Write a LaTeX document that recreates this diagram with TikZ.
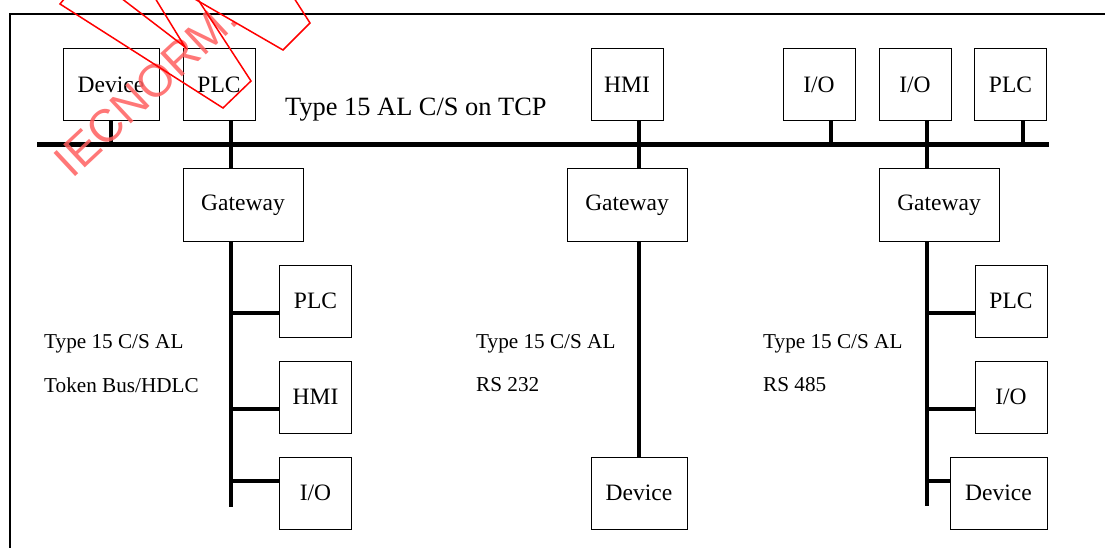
\documentclass[tikz,border=0pt]{standalone}
\usepackage{fontspec}
\setmainfont{Liberation Serif}
\newfontfamily\wmfont{Liberation Sans}
\definecolor{wmred}{RGB}{255,0,0}
\definecolor{wmtext}{RGB}{255,95,95}
\begin{document}
\begin{tikzpicture}[x=1pt,y=-1pt,
  box/.style={draw, line width=1pt, inner sep=0pt, minimum height=72pt,
              font=\fontsize{23.5}{28}\selectfont},
  sbox/.style={box, minimum width=72pt},
  mbox/.style={box, minimum width=96pt},
  gbox/.style={box, minimum width=120pt},
  bus/.style={line width=5pt},
  stub/.style={line width=3.5pt},
  trunk/.style={line width=4pt},
  note/.style={anchor=west, inner sep=0pt, font=\fontsize{21.2}{25}\selectfont},
  wm/.style={draw=wmred, line width=1.5pt, line join=miter}]
\useasboundingbox (0,0) rectangle (1105,548);

% outer frame
\draw[line width=2pt] (10,548) -- (10,14) -- (1105,14);

% upper backbone
\coordinate (busL) at (37,145);
\coordinate (busR) at (1049,145);
\draw[bus] (busL) -- (busR);
\node[anchor=base west, inner sep=0pt, font=\fontsize{26.4}{31}\selectfont]
  (tcp) at (285,116) {Type 15 AL C/S on TCP};

% devices on the backbone
\node[mbox] (tdev)  at (111,85) {Device};
\node[sbox] (tplc)  at (219,85) {PLC};
\node[sbox] (thmi)  at (627,85) {HMI};
\node[sbox] (tio1)  at (819,85) {I/O};
\node[sbox] (tio2)  at (915,85) {I/O};
\node[sbox] (tplc2) at (1010.5,85) {PLC};

% gateways
\node[gbox] (gwA) at (243,205) {Gateway};
\node[gbox] (gwB) at (627,205) {Gateway};
\node[gbox] (gwC) at (939,205) {Gateway};

% trunk positions
\coordinate (tA) at (231,145);
\coordinate (tB) at (639,145);
\coordinate (tC) at (927,145);
\coordinate (tD) at (831,145);
\coordinate (tE) at (1023,145);

% stubs to the backbone
\draw[stub] (tdev.south) -- (tdev.south |- busL);
\draw[stub] (tplc.south -| tA) -- (gwA.north -| tA);
\draw[stub] (thmi.south -| tB) -- (gwB.north -| tB);
\draw[stub] (tio1.south -| tD) -- (tD);
\draw[stub] (tio2.south -| tC) -- (gwC.north -| tC);
\draw[stub] (tplc2.south -| tE) -- (tE);

% left segment: Token Bus/HDLC
\node[sbox] (lplc) at (315.5,301) {PLC};
\node[sbox] (lhmi) at (315.5,397) {HMI};
\node[sbox] (lio)  at (315.5,493) {I/O};
\coordinate (endA) at (231,507);
\draw[trunk] (gwA.south -| tA) -- (endA);
\draw[trunk] (lplc.west |- 0,313) -- (tA |- 0,313);
\draw[trunk] (lhmi.west |- 0,409) -- (tA |- 0,409);
\draw[trunk] (lio.west |- 0,481) -- (tA |- 0,481);
\node[note] (nA1) at (44,344) {Type 15 C/S AL};
\node[note] (nA2) at (44,385) {Token Bus/HDLC};

% middle segment: RS 232
\node[mbox] (mdev) at (639,493) {Device};
\draw[trunk] (gwB.south -| tB) -- (mdev.north);
\node[note] (nB1) at (476,344) {Type 15 C/S AL};
\node[note] (nB2) at (476,385) {RS 232};

% right segment: RS 485
\node[sbox] (rplc) at (1011,301) {PLC};
\node[sbox] (rio)  at (1011,397) {I/O};
\node[box, minimum width=97pt] (rdev) at (998.5,493) {Device};
\coordinate (endC) at (927,506);
\draw[trunk] (gwC.south -| tC) -- (endC);
\draw[trunk] (rplc.west |- 0,313) -- (tC |- 0,313);
\draw[trunk] (rio.west |- 0,409) -- (tC |- 0,409);
\draw[trunk] (rdev.west |- 0,481) -- (tC |- 0,481);
\node[note] (nC1) at (763,344) {Type 15 C/S AL};
\node[note] (nC2) at (763,385) {RS 485};

% stamp overlay
\begin{scope}
\clip (0,0) rectangle (1105,548);
\node[rotate=43, text=wmtext, opacity=0.85, inner sep=0pt,
      font=\wmfont\fontsize{46}{54}\selectfont] (stamp) at (146,89) {IECNORM.};
\draw[wm] (65,-2) -- (60,4) -- (223,108) -- (251,81) -- (197,-2);
\draw[wm] (121,-2) -- (185,47) -- (155,-2);
\draw[wm] (193,-2) -- (283,50) -- (310,23) -- (294,-2);
\end{scope}
\end{tikzpicture}
\end{document}
